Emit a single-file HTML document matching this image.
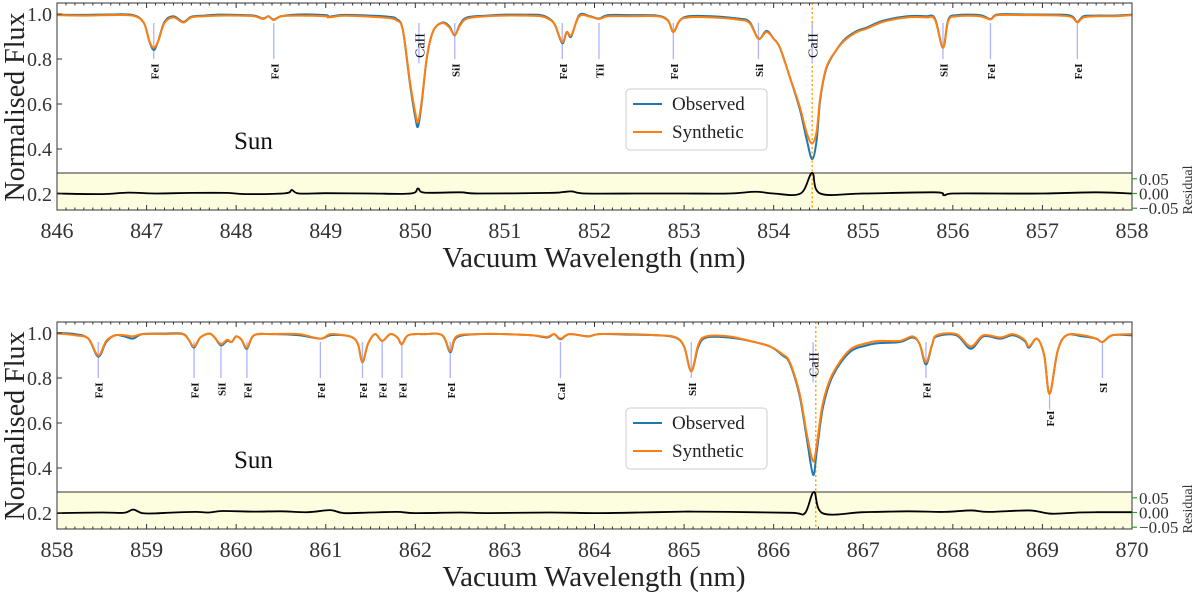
<!DOCTYPE html>
<html><head><meta charset="utf-8"><style>
html,body{margin:0;padding:0;background:#fff;}
svg{display:block;font-family:"Liberation Serif",serif;}
</style></head><body>
<svg id="chart" width="1200" height="593" viewBox="0 0 1200 593" xmlns="http://www.w3.org/2000/svg"></svg>
<script>
// ---------- Panel 1 data (846-858 nm) ----------
const wl1=[846.00,846.30,846.60,846.85,846.97,847.03,847.08,847.13,847.20,847.30,847.41,847.50,847.65,847.80,848.00,848.20,848.30,848.36,848.42,848.50,848.70,849.00,849.03,849.20,849.50,849.70,849.79,849.86,849.94,850.00,850.03,850.07,850.13,850.20,850.30,850.38,850.44,850.50,850.58,850.80,851.00,851.20,851.40,851.50,851.56,851.64,851.69,851.74,851.83,851.95,852.05,852.15,852.40,852.70,852.82,852.88,852.95,853.05,853.30,853.60,853.73,853.83,853.92,854.00,854.07,854.18,854.29,854.37,854.43,854.48,854.52,854.59,854.70,854.80,854.93,855.04,855.22,855.49,855.70,855.80,855.89,855.95,856.05,856.30,856.42,856.50,856.80,857.20,857.33,857.39,857.46,857.60,857.80,858.00];
const syn1=[0.995,0.993,0.995,0.992,0.96,0.88,0.85,0.88,0.96,0.985,0.962,0.985,0.99,0.993,0.993,0.99,0.978,0.99,0.973,0.99,0.993,0.99,0.985,0.992,0.988,0.982,0.972,0.93,0.70,0.56,0.52,0.61,0.81,0.925,0.96,0.94,0.907,0.95,0.98,0.99,0.993,0.993,0.99,0.975,0.95,0.875,0.92,0.905,0.99,0.988,0.978,0.99,0.99,0.99,0.97,0.92,0.97,0.985,0.985,0.975,0.96,0.89,0.92,0.89,0.85,0.72,0.59,0.47,0.425,0.48,0.63,0.765,0.84,0.885,0.92,0.935,0.965,0.985,0.985,0.975,0.85,0.97,0.99,0.99,0.976,0.995,0.995,0.993,0.985,0.963,0.985,0.99,0.99,0.995];
const obs1=[0.997,0.996,0.998,0.995,0.96,0.88,0.84,0.88,0.965,0.99,0.965,0.988,0.993,0.997,0.996,0.993,0.98,0.99,0.975,0.99,0.998,0.995,0.988,0.996,0.993,0.988,0.978,0.93,0.69,0.54,0.50,0.60,0.81,0.925,0.962,0.945,0.905,0.955,0.985,0.993,0.997,0.997,0.995,0.978,0.95,0.87,0.92,0.90,0.995,0.99,0.98,0.995,0.995,0.993,0.972,0.92,0.97,0.99,0.99,0.98,0.965,0.89,0.925,0.89,0.85,0.72,0.58,0.44,0.355,0.44,0.62,0.76,0.84,0.89,0.925,0.94,0.97,0.99,0.99,0.98,0.85,0.975,0.995,0.995,0.978,0.998,0.998,0.997,0.99,0.965,0.99,0.993,0.993,0.997];
const rw1=[846.0,846.5,846.8,847.1,847.5,847.9,848.1,848.55,848.62,848.7,849.0,849.5,849.95,850.03,850.1,850.5,850.7,851.5,851.65,851.75,851.9,852.5,853.0,853.5,853.8,854.0,854.3,854.43,854.52,855.0,855.8,855.9,856.0,856.5,857.0,857.6,858.0];
const rv1=[0.0,-0.002,0.003,0.0,0.002,0.002,-0.002,0.001,0.012,0.0,0.001,0.0,0.0,0.017,0.003,0.004,0.0,0.002,0.005,0.007,0.0,0.0,0.0,0.0,0.006,0.0,0.0,0.07,0.0,0.0,0.004,-0.006,0.0,0.0,0.0,0.004,0.0];
const lineWl1=[847.08,848.42,850.04,850.44,851.64,852.05,852.88,853.83,854.43,855.89,856.42,857.39];
const lineLab1=["FeI","FeI","CaII","SiI","FeI","TiI","FeI","SiI","CaII","SiI","FeI","FeI"];

// ---------- Panel 2 data (858-870 nm) ----------
const wl2=[858.00,858.20,858.35,858.46,858.55,858.65,858.75,858.85,858.95,859.20,859.40,859.47,859.53,859.60,859.70,859.76,859.83,859.90,859.95,860.00,860.06,860.12,860.20,860.40,860.70,860.94,861.05,861.20,861.30,861.36,861.41,861.47,861.55,861.63,861.72,861.80,861.85,861.92,862.10,862.30,862.39,862.46,862.70,863.00,863.30,863.47,863.55,863.62,863.72,863.93,864.05,864.40,864.70,864.90,865.00,865.08,865.16,865.25,865.50,865.73,865.96,866.10,866.18,866.29,866.37,866.44,866.48,866.55,866.66,866.85,867.04,867.18,867.41,867.55,867.63,867.70,867.77,867.82,868.04,868.20,868.34,868.53,868.67,868.80,868.85,868.94,869.02,869.08,869.17,869.27,869.45,869.60,869.67,869.78,870.00];
const syn2=[0.998,0.99,0.975,0.90,0.965,0.99,0.99,0.985,0.995,0.995,0.995,0.97,0.94,0.98,0.997,0.98,0.95,0.97,0.96,0.985,0.97,0.935,0.99,0.995,0.995,0.975,0.995,0.99,0.98,0.95,0.87,0.95,0.995,0.965,0.995,0.98,0.95,0.99,0.995,0.99,0.92,0.985,0.995,0.995,0.99,0.983,0.995,0.975,0.995,0.985,0.995,0.995,0.99,0.982,0.94,0.83,0.95,0.985,0.985,0.965,0.94,0.905,0.87,0.73,0.55,0.43,0.50,0.69,0.82,0.925,0.955,0.965,0.965,0.985,0.95,0.87,0.95,0.99,0.995,0.94,0.99,0.98,0.995,0.97,0.94,0.975,0.90,0.73,0.92,0.99,0.99,0.975,0.96,0.99,0.995];
const obs2=[1.0,0.995,0.975,0.895,0.96,0.99,0.985,0.975,0.995,0.997,0.997,0.97,0.935,0.98,0.997,0.98,0.945,0.965,0.96,0.985,0.97,0.93,0.99,0.995,0.99,0.975,0.99,0.99,0.98,0.95,0.87,0.95,0.995,0.965,0.995,0.98,0.95,0.99,0.995,0.99,0.915,0.98,0.995,0.995,0.99,0.98,0.995,0.972,0.995,0.985,0.995,0.993,0.99,0.98,0.94,0.83,0.94,0.98,0.98,0.965,0.94,0.90,0.865,0.72,0.53,0.37,0.47,0.67,0.81,0.915,0.945,0.955,0.96,0.98,0.95,0.86,0.95,0.985,0.99,0.93,0.985,0.975,0.99,0.965,0.935,0.975,0.90,0.73,0.92,0.99,0.985,0.975,0.96,0.99,0.99];
const rw2=[858.0,858.5,858.75,858.85,858.95,859.1,859.3,859.55,859.7,859.85,860.2,860.5,860.8,861.05,861.2,861.5,861.8,862.0,862.5,862.8,863.5,864.0,864.5,865.0,865.1,865.5,866.2,866.35,866.45,866.55,867.0,867.5,867.9,868.2,868.4,868.85,869.1,869.4,869.6,870.0];
const rv2=[-0.002,0.0,-0.001,0.01,-0.002,-0.003,0.0,0.002,0.0,0.005,0.003,0.004,0.001,0.008,-0.002,0.0,0.002,-0.002,0.0,-0.002,0.0,-0.002,0.0,0.003,0.003,0.002,-0.001,-0.002,0.07,-0.003,0.001,0.004,0.002,0.007,0.002,0.007,-0.004,0.0,0.001,0.001];
const lineWl2=[858.46,859.53,859.83,860.12,860.94,861.41,861.63,861.85,862.39,863.62,865.08,866.44,867.70,869.08,869.67];
const lineLab2=["FeI","FeI","SiI","FeI","FeI","FeI","FeI","FeI","FeI","CaI","SiI","CaII","FeI","FeI","SI"];

const xTicks1=[846,847,848,849,850,851,852,853,854,855,856,857,858];
const xTicks2=[858,859,860,861,862,863,864,865,866,867,868,869,870];
const yTicks=[0.2,0.4,0.6,0.8,1.0];
const rTicks=[0.05,0.00,-0.05];
const rTickLabels=["0.05","0.00","\u22120.05"];

const NS="http://www.w3.org/2000/svg";
const svg=document.getElementById('chart');
function mk(tag,attrs,parent){const e=document.createElementNS(NS,tag);for(const k in attrs)e.setAttribute(k,attrs[k]);(parent||svg).appendChild(e);return e;}
function smooth(pts){
  let d='M'+pts[0][0].toFixed(2)+','+pts[0][1].toFixed(2);
  for(let i=0;i<pts.length-1;i++){
    const p0=pts[Math.max(0,i-1)],p1=pts[i],p2=pts[i+1],p3=pts[Math.min(pts.length-1,i+2)];
    const c1x=p1[0]+(p2[0]-p0[0])/6,c1y=p1[1]+(p2[1]-p0[1])/6;
    const c2x=p2[0]-(p3[0]-p1[0])/6,c2y=p2[1]-(p3[1]-p1[1])/6;
    d+=' C'+c1x.toFixed(2)+','+c1y.toFixed(2)+' '+c2x.toFixed(2)+','+c2y.toFixed(2)+' '+p2[0].toFixed(2)+','+p2[1].toFixed(2);
  }
  return d;
}

function panel(p){
  const L=57,R=1132,T=p.top,B=p.top+207,x0=p.x0;
  const X=w=>L+(w-x0)*(R-L)/12;
  const Y=f=>p.top+11+(1-f)*225;
  const RY=r=>p.top+190.5-r*294;
  const g=mk('g',{});
  
  
  const band=mk('rect',{x:L,y:p.top+170,width:R-L,height:B-(p.top+170),fill:'#fdfddf',stroke:'#333','stroke-width':1},g);
  
  
  const cx=X(p.core);
  const dl=mk('line',{x1:cx,x2:cx,y1:T,y2:B,stroke:'#ffa500','stroke-width':1.5,'stroke-dasharray':'2,2.5'},g);
  
  
  p.lw.forEach((w,i)=>{
    const lx=X(w);
    const isCa=p.lab[i]==='CaII';
    const deep=(p.lab[i]==='FeI'&&Math.abs(w-869.08)<0.01);
    const y1=deep?Y(0.74):Y(0.96), y2=deep?Y(0.66):(isCa?Y(0.78):Y(0.8));
    const m=mk('line',{x1:lx,x2:lx,y1:y1,y2:y2,stroke:'#aab4ff','stroke-width':1.3},g);
    
    
    const ty=isCa?Y(0.915):(deep?Y(0.655):Y(0.78));
    const t=mk('text',{x:0,y:0,transform:'translate('+(lx+(isCa?5.5:4.5))+','+ty+') rotate(-90)','text-anchor':'end','font-size':isCa?14:11,'font-weight':isCa?'normal':'bold',fill:'#111'},g);
    t.textContent=p.lab[i];
    
    
  });
  const po=mk('path',{d:smooth(p.wl.map((w,i)=>[X(w),Y(p.obs[i])])),fill:'none',stroke:'#1f77b4','stroke-width':2},g);
  
  
  const ps=mk('path',{d:smooth(p.wl.map((w,i)=>[X(w),Y(p.syn[i])])),fill:'none',stroke:'#ff7f0e','stroke-width':2},g);
  
  
  const pr=mk('path',{d:smooth(p.rw.map((w,i)=>[X(w),RY(p.rv[i])])),fill:'none',stroke:'#000','stroke-width':1.8},g);
  
  
  const fr=mk('rect',{x:L,y:T,width:R-L,height:B-T,fill:'none',stroke:'#333','stroke-width':1},g);
  
  
  for(let k=0;k<=120;k++){
    const xx=L+k*(R-L)/120, maj=k%10===0, len=maj?5:2.5;
    mk('line',{x1:xx,x2:xx,y1:B,y2:B-len,stroke:'#333','stroke-width':1},g);
    mk('line',{x1:xx,x2:xx,y1:T,y2:T+len,stroke:'#333','stroke-width':1},g);
  }
  p.xt.forEach(v=>{
    const t=mk('text',{x:X(v),y:B+28,'text-anchor':'middle','font-size':22,fill:'#333'},g);
    t.textContent=v;
    
    
  });
  yTicks.forEach(v=>{
    mk('line',{x1:L,x2:L+5,y1:Y(v),y2:Y(v),stroke:'#333','stroke-width':1},g);
    const t=mk('text',{x:L-5,y:Y(v)+7,'text-anchor':'end','font-size':20,fill:'#333'},g);
    t.textContent=v.toFixed(1);
    
    
  });
  rTicks.forEach((v,i)=>{
    mk('line',{x1:R,x2:R+5,y1:RY(v),y2:RY(v),stroke:'#2ca02c','stroke-width':1.2},g);
    const t=mk('text',{x:R+7,y:RY(v)+6,'font-size':17,fill:'#333'},g);
    t.textContent=rTickLabels[i];
    
    
  });
  const rl=mk('text',{x:0,y:0,transform:'translate('+1192+','+(p.top+187)+') rotate(-90)','text-anchor':'middle','font-size':14,fill:'#333'},g);
  rl.textContent='Residual';
  
  
  const yl=mk('text',{x:0,y:0,transform:'translate('+24+','+(p.top+104)+') rotate(-90)','text-anchor':'middle','font-size':28,fill:'#222'},g);
  yl.textContent='Normalised Flux';
  
  
  const xl=mk('text',{x:594,y:B+57,'text-anchor':'middle','font-size':29,fill:'#222'},g);
  xl.textContent='Vacuum Wavelength (nm)';
  
  
  const sun=mk('text',{x:234,y:p.top+146,'font-size':25,fill:'#111'},g);
  sun.textContent='Sun';
  
  
  const lg=mk('g',{},g);
  
  
  mk('rect',{x:626,y:p.top+86,width:141,height:61,rx:4,fill:'#fff','fill-opacity':0.85,stroke:'#ccc','stroke-width':1},lg);
  [['Observed','#1f77b4',101],['Synthetic','#ff7f0e',129]].forEach(e=>{
    const ln=mk('line',{x1:633,x2:662,y1:p.top+e[2],y2:p.top+e[2],stroke:e[1],'stroke-width':2},lg);
    
    
    const t=mk('text',{x:672,y:p.top+e[2]+6,'font-size':19,fill:'#222'},lg);
    t.textContent=e[0];
    
    
  });
}
panel({name:'panel-846-858',top:3,x0:846,wl:wl1,syn:syn1,obs:obs1,rw:rw1,rv:rv1,lw:lineWl1,lab:lineLab1,xt:xTicks1,core:854.43});
panel({name:'panel-858-870',top:322,x0:858,wl:wl2,syn:syn2,obs:obs2,rw:rw2,rv:rv2,lw:lineWl2,lab:lineLab2,xt:xTicks2,core:866.47});
</script>
</body></html>
